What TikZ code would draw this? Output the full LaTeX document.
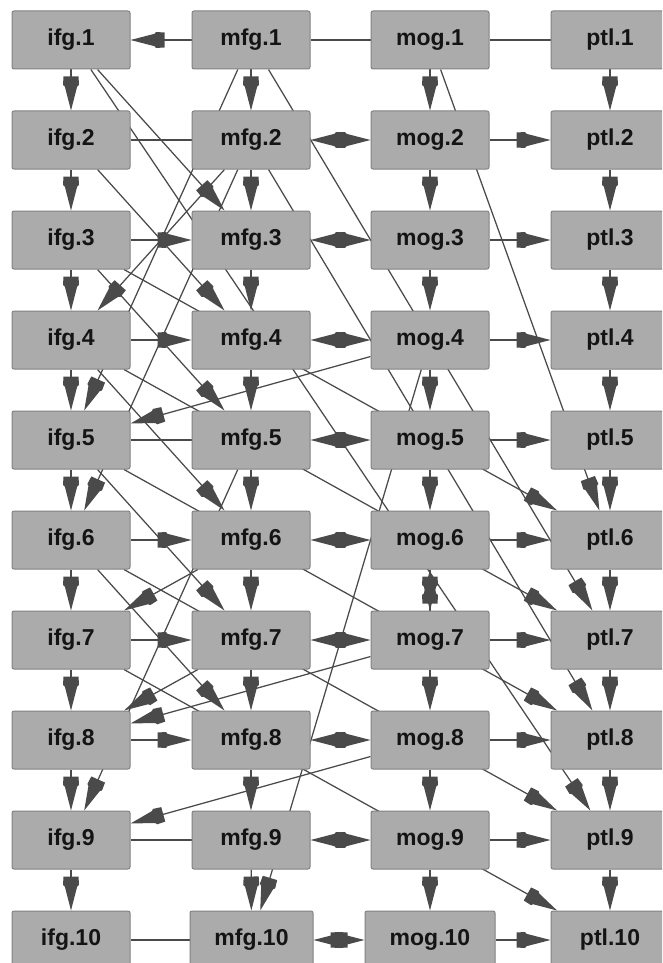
\documentclass[tikz,border=0pt]{standalone}
\usepackage{fontspec}
\setmainfont{Liberation Sans}
\usetikzlibrary{arrows.meta}
\pgfdeclarelayer{bg}
\pgfsetlayers{bg,main}
\definecolor{boxfill}{RGB}{171,171,171}
\definecolor{boxline}{RGB}{130,130,130}
\definecolor{edgecol}{RGB}{74,74,74}
\pgfdeclarearrow{
  name = Tet,
  setup code = {
    \pgfarrowssettipend{0pt}
    \pgfarrowssetlineend{-20pt}
    \pgfarrowssetbackend{-34pt}
    \pgfarrowshullpoint{0pt}{0pt}
    \pgfarrowsupperhullpoint{-34pt}{8pt}
  },
  drawing code = {
    \pgfpathmoveto{\pgfqpoint{0pt}{0pt}}
    \pgfpathlineto{\pgfqpoint{-24pt}{6.2pt}}
    \pgfpathlineto{\pgfqpoint{-25.5pt}{8pt}}
    \pgfpathlineto{\pgfqpoint{-34pt}{7.5pt}}
    \pgfpathlineto{\pgfqpoint{-34pt}{-7.5pt}}
    \pgfpathlineto{\pgfqpoint{-25.5pt}{-8pt}}
    \pgfpathlineto{\pgfqpoint{-24pt}{-6.2pt}}
    \pgfpathclose
    \pgfusepathqfill
  }
}
\tikzset{
  vbox/.style={draw=boxline, fill=boxfill, rounded corners=2pt, line width=1pt,
    minimum width=118pt, minimum height=58pt, inner sep=0pt, text=black!92,
    font=\fontsize{23}{23}\selectfont\bfseries},
  lnk/.style={edgecol, line width=1.25pt},
  ul/.style={lnk},
  dl/.style={lnk, -Tet},
  bl/.style={lnk, Tet-Tet}
}
\begin{document}
\begin{tikzpicture}[x=1pt, y=-1pt]
\useasboundingbox (0,0) rectangle (662,963);
\clip (0,0) rectangle (662,963);
% nodes
\foreach \i in {1,...,9} {
  \pgfmathsetmacro{\yy}{40+100*(\i-1)}
  \node[vbox] (ifg\i) at (71,\yy) {ifg.\i};
  \node[vbox] (mfg\i) at (251,\yy) {mfg.\i};
  \node[vbox] (mog\i) at (430,\yy) {mog.\i};
  \node[vbox] (ptl\i) at (610,\yy) {ptl.\i};
}
\node[vbox] (ifg10) at (71,940) {ifg.10};
\node[vbox, minimum width=123pt] (mfg10) at (251.5,940) {mfg.10};
\node[vbox, minimum width=130pt] (mog10) at (430,940) {mog.10};
\node[vbox] (ptl10) at (610,940) {ptl.10};
\begin{pgfonlayer}{bg}
\fill[white] (0,0) rectangle (662,963);
% horizontal
\draw[dl] (mfg1) -- (ifg1);
\draw[ul] (mfg1) -- (mog1);
\draw[ul] (mog1) -- (ptl1);
\foreach \i in {2,5,9,10} \draw[ul] (ifg\i) -- (mfg\i);
\foreach \i in {3,4,6,7,8} \draw[dl] (ifg\i) -- (mfg\i);
\foreach \i in {2,...,10} {
  \draw[bl] (mfg\i) -- (mog\i);
  \draw[dl] (mog\i) -- (ptl\i);
}
% vertical
\foreach \i in {1,...,9} {
  \pgfmathtruncatemacro{\j}{\i+1}
  \draw[dl] (ifg\i) -- (ifg\j);
  \draw[dl] (mfg\i) -- (mfg\j);
  \draw[dl] (mog\i) -- (mog\j);
  \draw[dl] (ptl\i) -- (ptl\j);
}
\draw[dl] (mog7) -- (mog6);
% ifg -> mfg two rows down
\foreach \i in {1,...,6} {
  \pgfmathtruncatemacro{\j}{\i+2}
  \draw[dl] (ifg\i) -- (mfg\j);
}
% ifg -> ptl three rows down
\foreach \i in {3,...,7} {
  \pgfmathtruncatemacro{\j}{\i+3}
  \draw[dl] (ifg\i) -- (ptl\j);
}
\draw[dl] (ifg1) -- (ptl9);
% mfg -> ifg
\draw[dl] (mfg1) -- (ifg5);
\draw[dl] (mfg2) -- (ifg6);
\draw[dl] (mfg5) -- (ifg9);
\draw[dl] (mfg2) -- (ifg4);
\draw[dl] (mfg6) -- (ifg7);
\draw[dl] (mfg7) -- (ifg8);
% mog -> ifg
\draw[dl] (mog4) -- (ifg5);
\draw[dl] (mog7) -- (ifg8);
\draw[dl] (mog8) -- (ifg9);
% others
\draw[dl] (mog4) -- (mfg10);
\draw[dl] (mfg1) -- (ptl7);
\draw[dl] (mfg2) -- (ptl8);
\draw[dl] (mog1) -- (ptl6);
\end{pgfonlayer}
\end{tikzpicture}
\end{document}
